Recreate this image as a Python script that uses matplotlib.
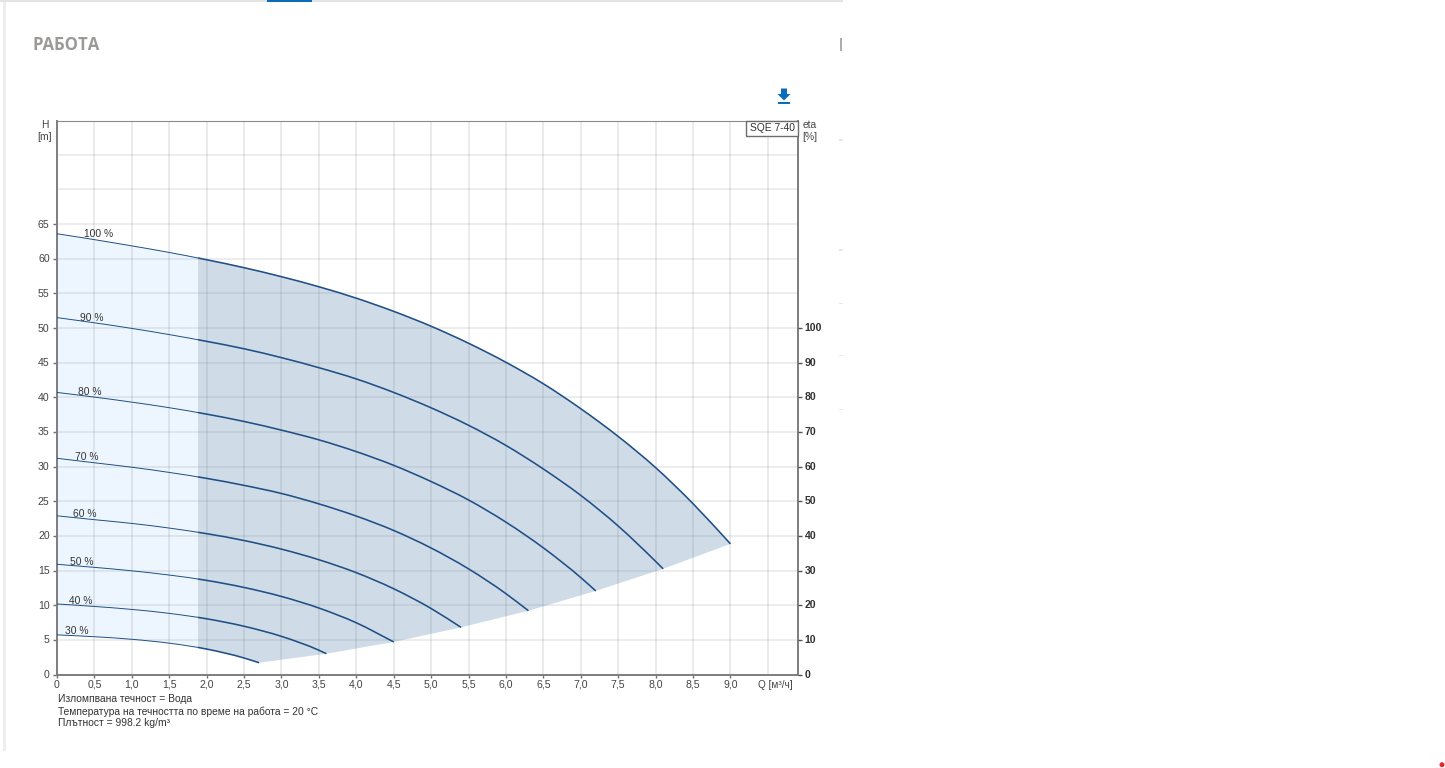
import numpy as np
import matplotlib
matplotlib.use("Agg")
import matplotlib.pyplot as plt
from matplotlib.patches import Rectangle, Polygon, Ellipse, PathPatch
from matplotlib.path import Path
from matplotlib.transforms import ScaledTranslation

plt.rcParams['font.family'] = ['Liberation Sans', 'DejaVu Sans']

W, H = 1445, 768

# ---- data ----
q_step = [0, 0.5, 1.0, 1.5, 2.0, 2.5, 3.0, 3.5, 4.0, 4.5, 5.0, 5.5, 6.0, 6.5, 7.0, 7.5, 8.0, 8.5]
speed_labels = ["100 %", "90 %", "80 %", "70 %", "60 %", "50 %", "40 %", "30 %"]
q_end = [9.0, 8.1, 7.2, 6.3, 5.4, 4.5, 3.6, 2.7]
h_end = [18.85, 15.25, 12.06, 9.2, 6.8, 4.7, 3.0, 1.7]
h100 = [63.6, 62.75, 61.85, 60.9, 59.85, 58.7, 57.4, 55.95, 54.3, 52.4, 50.25, 47.8, 45.05, 41.95, 38.35, 34.35, 29.85, 24.65]
h90 = [51.5, 50.75, 49.94, 49.05, 48.07, 47.0, 45.72, 44.27, 42.65, 40.7, 38.48, 35.96, 33.05, 29.65, 25.84, 21.42, 16.32]
h80 = [40.7, 40.03, 39.3, 38.5, 37.57, 36.51, 35.26, 33.86, 32.16, 30.18, 27.84, 25.18, 21.98, 18.27, 13.98]
h70 = [31.2, 30.55, 29.91, 29.16, 28.3, 27.29, 26.12, 24.62, 22.86, 20.78, 18.25, 15.24, 11.66]
h60 = [22.9, 22.34, 21.8, 21.13, 20.32, 19.33, 18.09, 16.56, 14.69, 12.37, 9.52]
h50 = [15.9, 15.46, 14.96, 14.35, 13.58, 12.56, 11.26, 9.59, 7.46]
h40 = [10.18, 9.82, 9.39, 8.82, 8.04, 6.96, 5.5, 3.5]
h30 = [5.72, 5.45, 5.08, 4.52, 3.67, 2.38]
label_q = [0.55, 0.47, 0.44, 0.40, 0.37, 0.33, 0.31, 0.27]
label_h = [63.6, 51.5, 40.8, 31.4, 23.2, 16.3, 10.6, 6.3]
curves = [h100, h90, h80, h70, h60, h50, h40, h30]
q_split = 1.89

x_ticks = [i * 0.5 for i in range(19)]
x_labels = ["0", "0,5", "1,0", "1,5", "2,0", "2,5", "3,0", "3,5", "4,0", "4,5",
            "5,0", "5,5", "6,0", "6,5", "7,0", "7,5", "8,0", "8,5", "9,0"]
x_grid = [i * 0.5 for i in range(1, 20)]
h_grid = list(range(5, 85, 5))
h_ticks = list(range(0, 70, 5))
eta_ticks = list(range(0, 110, 10))
notes = ["Изломпвана течност = Вода",
         "Температура на течността по време на работа = 20 °C",
         "Плътност = 998.2 kg/m³"]

# ---- page ----
fig = plt.figure(figsize=(W / 100, H / 100), dpi=100, facecolor="white")

def fx(x):
    return x / W

def fy(y):
    return 1 - y / H

def page_rect(x0, y0, x1, y1, color):
    fig.add_artist(Rectangle((fx(x0), fy(y1)), (x1 - x0) / W, (y1 - y0) / H,
                             transform=fig.transFigure, fc=color, ec="none"))

def page_text(x, y, s, **kw):
    fig.text(fx(x), fy(y), s, **kw)

page_rect(0, 0.5, 843, 1.8, "#e2e3e4")
page_rect(267, 0, 312, 1.8, "#0b6cbb")
page_rect(3, 2, 5.5, 751, "#eeeeee")
page_rect(839.5, 38, 841.5, 51, "#b0aeac")
for yy in [140, 250, 303, 356, 409]:
    page_rect(839, yy - 0.5, 843, yy + 0.5, "#e8e8e8")
fig.add_artist(Ellipse((fx(1442), fy(764.7)), 5 / W, 5 / H, transform=fig.transFigure, fc="#e8282c", ec="none"))

page_text(33, 44.5, "РАБОТА", family=["Open Sans", "DejaVu Sans"], fontsize=12.1, fontweight="bold",
          color="#9b9a99", ha="left", va="center")

# download icon
icon = [(781, 88.5), (787, 88.5), (787, 94), (790.5, 94), (784, 100.5), (777.5, 94), (781, 94)]
fig.add_artist(Polygon([(fx(a), fy(b)) for a, b in icon], closed=True, transform=fig.transFigure,
                       fc="#0b6cbb", ec="none"))
page_rect(778, 102, 790, 104, "#0b6cbb")

# ---- axes ----
ax = fig.add_axes([fx(57), fy(674.5), (797.5 - 57) / W, (674.5 - 120.5) / H])
ax.set_xlim(0, 740.5 / 74.83)
ax.set_ylim(0, 554 / 6.93)
ax.set_facecolor("none")


def smooth_segments(xs, ys):
    """Cubic Bezier control points through the read points (vertices after the first)."""
    xs, ys = np.asarray(xs, float), np.asarray(ys, float)
    m = np.gradient(ys, xs)
    verts = []
    for i in range(len(xs) - 1):
        d = (xs[i + 1] - xs[i]) / 3
        verts += [(xs[i] + d, ys[i] + m[i] * d), (xs[i + 1] - d, ys[i + 1] - m[i + 1] * d), (xs[i + 1], ys[i + 1])]
    return verts


def curve_xy(i):
    vals = curves[i]
    return q_step[:len(vals)] + [q_end[i]], vals + [h_end[i]]


# envelope path: 100 % curve, end points of the other curves, 30 % curve backwards
x_top, y_top = curve_xy(0)
x_low, y_low = curve_xy(len(curves) - 1)
env_v = [(x_top[0], y_top[0])] + smooth_segments(x_top, y_top)
env_c = [Path.MOVETO] + [Path.CURVE4] * (3 * (len(x_top) - 1))
for qe, he in zip(q_end[1:], h_end[1:]):
    env_v.append((qe, he))
    env_c.append(Path.LINETO)
env_v += smooth_segments(x_low[::-1], y_low[::-1])
env_c += [Path.CURVE4] * (3 * (len(x_low) - 1))
env_v.append(env_v[0])
env_c.append(Path.CLOSEPOLY)
env_path = Path(env_v, env_c)

for color, x0, x1 in [("#edf6fe", 0, q_split), ("#cfdce8", q_split, 12)]:
    poly = PathPatch(env_path, fc=color, ec="none", zorder=1)
    ax.add_patch(poly)
    poly.set_clip_path(Rectangle((x0, 0), x1 - x0, 100, transform=ax.transData))

for v in x_grid:
    ax.axvline(v, color=(0.42, 0.47, 0.50, 0.15), lw=1.4, zorder=2)
for v in h_grid:
    ax.axhline(v, color=(0.42, 0.47, 0.50, 0.17), lw=1.1, zorder=2)

for i, (lab, lq, lh) in enumerate(zip(speed_labels, label_q, label_h)):
    xs, ys = curve_xy(i)
    verts = [(xs[0], ys[0])] + smooth_segments(xs, ys)
    path = Path(verts, [Path.MOVETO] + [Path.CURVE4] * (len(verts) - 1))
    for x0, x1, lw in [(0, q_split, 0.7), (q_split, 12, 1.15)]:
        pp = PathPatch(path, fc="none", ec="#1f4f85", lw=lw, zorder=3)
        ax.add_patch(pp)
        pp.set_clip_path(Rectangle((x0, 0), x1 - x0, 100, transform=ax.transData))
    ax.text(lq, lh, lab, fontsize=7.4, color="#333333", ha="center", va="center", zorder=4)

ax.set_xticks(x_ticks)
ax.set_xticklabels(x_labels)
ax.set_yticks(h_ticks)
ax.set_yticklabels([str(v) for v in h_ticks])
ax.tick_params(axis="x", length=2.2, width=1, color="#707070", labelsize=7.6, labelcolor="#444444", pad=1.5)
ax.tick_params(axis="y", length=2.8, width=1, color="#707070", labelsize=7.6, labelcolor="#444444", pad=2.5)
for s in ["left", "right", "bottom"]:
    ax.spines[s].set_color("#7d7d7d")
    ax.spines[s].set_linewidth(1.4)
ax.spines["top"].set_color("#8a8a8a")
ax.spines["top"].set_linewidth(0.8)
for lbl in ax.get_yticklabels():
    lbl.set_transform(lbl.get_transform() + ScaledTranslation(0, 0.5 / 100, fig.dpi_scale_trans))

ax2 = ax.twinx()
ax2.set_ylim(0, 554 / 3.465)
ax2.set_yticks(eta_ticks)
ax2.tick_params(axis="y", length=2.8, width=1, color="#555555", labelsize=7.6, labelcolor="#333333", pad=2.2)
for lbl in ax2.get_yticklabels():
    lbl.set_fontweight("bold")
    lbl.set_transform(lbl.get_transform() + ScaledTranslation(0, 1 / 100, fig.dpi_scale_trans))
for s in ax2.spines.values():
    s.set_visible(False)

# curve-name box
fig.add_artist(Rectangle((fx(746), fy(136)), 51.5 / W, 15.5 / H, transform=fig.transFigure,
                         fc="white", ec="#6d6d6d", lw=1.0, zorder=5))
page_text(772, 128, "SQE 7-40", fontsize=7.4, color="#333333", ha="center", va="center", zorder=6)

# axis captions
page_text(45, 124.5, "H", fontsize=7.4, color="#444444", ha="center", va="center")
page_text(45, 136.5, "[m]", fontsize=7.4, color="#444444", ha="center", va="center")
page_text(810, 125, "eta", fontsize=7.4, color="#444444", ha="center", va="center")
page_text(809.5, 136.5, "[%]", fontsize=7.4, color="#444444", ha="center", va="center")
page_text(758, 684.5, "Q [м³/ч]", fontsize=7.2, color="#444444", ha="left", va="center")

for yy, s in zip([699.5, 711.5, 723.5], notes):
    page_text(57.5, yy, s, fontsize=7.42, color="#333333", ha="left", va="center")

fig.savefig("out.png", dpi=100, facecolor="white")
